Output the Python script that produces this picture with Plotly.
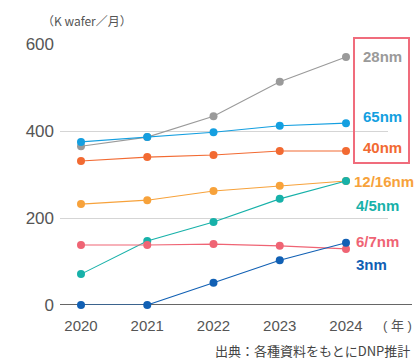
import plotly.graph_objects as go

years = [2020, 2021, 2022, 2023, 2024]
series_names = ["28nm", "65nm", "40nm", "12/16nm", "4/5nm", "6/7nm", "3nm"]
values = {
    "28nm":    [365, 386, 434, 513, 570],
    "65nm":    [375, 386, 397, 412, 418],
    "40nm":    [331, 340, 345, 354, 354],
    "12/16nm": [232, 241, 262, 274, 285],
    "4/5nm":   [71, 147, 191, 244, 285],
    "6/7nm":   [138, 138, 140, 136, 129],
    "3nm":     [0, 0, 51, 103, 143],
}
colors = {
    "28nm": "#9a9a9a",
    "65nm": "#149fe0",
    "40nm": "#f26a32",
    "12/16nm": "#f7a23b",
    "4/5nm": "#17b1a9",
    "6/7nm": "#ef6474",
    "3nm": "#1160b4",
}
# label positions (pixels from top-left of page)
label_y_px = {"28nm": 57, "65nm": 116, "40nm": 147, "12/16nm": 181,
              "4/5nm": 205, "6/7nm": 241, "3nm": 264}
label_x_px = {"28nm": 362, "65nm": 362, "40nm": 362, "12/16nm": 353,
              "4/5nm": 355, "6/7nm": 355, "3nm": 355}
y_ticks = [0, 200, 400, 600]

W, H = 414, 362
ML, MR, MT, MB = 60, 26, 44, 57
pw = W - ML - MR
ph = H - MT - MB

fig = go.Figure()
for name in series_names:
    fig.add_trace(go.Scatter(
        x=years, y=values[name], mode="lines+markers", name=name,
        line=dict(color=colors[name], width=1.1),
        marker=dict(color=colors[name], size=8),
        cliponaxis=False, showlegend=False,
    ))

def px_to_paper(x, y):
    return (x - ML) / pw, (H - MB - y) / ph

for name in series_names:
    px, py = px_to_paper(label_x_px[name], label_y_px[name])
    fig.add_annotation(x=px, y=py, xref="paper", yref="paper", text=name,
                       showarrow=False, xanchor="left", yanchor="middle",
                       borderpad=0,
                       font=dict(family="Liberation Sans, Arial", size=15,
                                 color=colors[name], weight="bold"))

# red box around top labels
x0, y0 = px_to_paper(354, 163)
x1, y1 = px_to_paper(409, 38)
fig.add_shape(type="rect", xref="paper", yref="paper", x0=x0, y0=y0, x1=x1, y1=y1,
              line=dict(color="#f06c7c", width=2), fillcolor="rgba(0,0,0,0)")

# baseline
bx1, _ = px_to_paper(412, 0)
fig.add_shape(type="line", xref="paper", yref="y", x0=0, x1=bx1, y0=0, y1=0,
              line=dict(color="#333333", width=1.5), layer="below")

# unit label
ux, uy = px_to_paper(41, 21)
fig.add_annotation(x=ux, y=uy, xref="paper", yref="paper", text="（K wafer／月）",
                   showarrow=False, xanchor="left", yanchor="middle", borderpad=0,
                   font=dict(family="Noto Sans CJK JP", size=12, color="#555555"))
yx, yy = px_to_paper(382, 325)
fig.add_annotation(x=yx, y=yy, xref="paper", yref="paper", text="( 年 )",
                   showarrow=False, xanchor="left", yanchor="middle", borderpad=0,
                   font=dict(family="Liberation Sans, Noto Sans CJK JP", size=13, color="#555555"))
sx, sy = px_to_paper(411, 350)
fig.add_annotation(x=sx, y=sy, xref="paper", yref="paper", text="出典：各種資料をもとにDNP推計",
                   showarrow=False, xanchor="right", yanchor="middle", borderpad=0,
                   font=dict(family="Noto Sans CJK JP", size=13, color="#444444"))

x_lo = 2020 - 21 / 66.25
x_hi = 2024 + 42 / 66.25
fig.update_layout(
    width=W, height=H,
    margin=dict(l=ML, r=MR, t=MT, b=MB),
    paper_bgcolor="white", plot_bgcolor="white",
    xaxis=dict(range=[x_lo, x_hi], tickvals=years, ticktext=[str(y) for y in years],
               showgrid=False, zeroline=False, showline=False, ticks="",
               ticklabelstandoff=10,
               tickfont=dict(family="Liberation Sans, Arial", size=15, color="#555555")),
    yaxis=dict(range=[0, 600], tickvals=y_ticks, showgrid=True, gridcolor="#d5d5d5",
               gridwidth=1, zeroline=False, showline=False, ticks="",
               ticklabelstandoff=5,
               tickfont=dict(family="Liberation Sans, Arial", size=17, color="#555555")),
)
fig.write_html("out.html")
